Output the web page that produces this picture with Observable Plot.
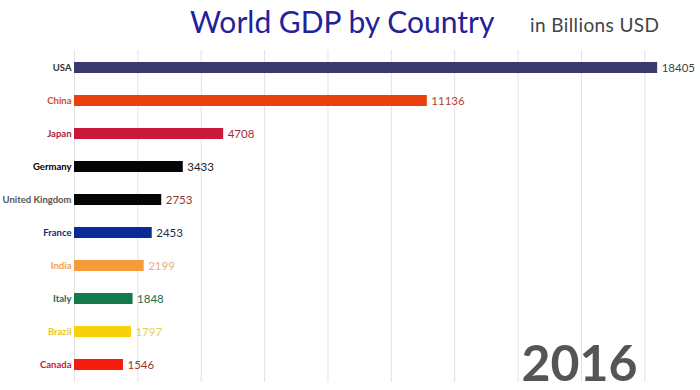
<!DOCTYPE html>
<html><head><meta charset="utf-8">
<script src="https://cdn.jsdelivr.net/npm/d3@7"></script>
<script src="https://cdn.jsdelivr.net/npm/@observablehq/plot@0.6"></script>
<style>
html,body{margin:0;padding:0;background:#fff;}
#wrap{position:relative;width:700px;height:390px;overflow:hidden;}
#head{position:relative;height:50px;}
#title{position:absolute;left:190px;top:3px;font-family:Lato,sans-serif;font-size:30px;color:#22229a;white-space:nowrap;}
#sub{position:absolute;left:530px;top:13px;font-family:Lato,sans-serif;font-size:19px;letter-spacing:0.4px;color:#444;white-space:nowrap;}
svg{display:block;}
</style></head>
<body><div id="wrap">
<div id="head"><div id="title">World GDP by Country</div><div id="sub">in Billions USD</div></div>
<div id="chart"></div>
</div>
<script>
const countries = ["USA","China","Japan","Germany","United Kingdom","France","India","Italy","Brazil","Canada"];
const gdp = [18405,11136,4708,3433,2753,2453,2199,1848,1797,1546];
const barColors = ["#3b3a6c","#e8410d","#c9183b","#050505","#050505","#0b2a98","#f69a3a","#137a4b","#f6d20c","#f51c0c"];
const labelColors = ["#333333","#d24a30","#a8203c","#000000","#555555","#16287a","#f0a04e","#1a6a48","#ecc628","#cc2030"];
const valueColors = ["#444444","#b04434","#a0303e","#222222","#8a3a34","#1c2a5c","#e2b080","#2a6a4c","#e8d060","#a43434"];
const gridTicks = [0,2000,4000,6000,8000,10000,12000,14000,16000,18000];
const year = "2016";

const data = countries.map((c,i)=>({country:c, value:gdp[i], bar:barColors[i], label:labelColors[i], vcol:valueColors[i]}));

const chart = Plot.plot({
  width: 700, height: 340,
  marginLeft: 74, marginRight: 24, marginTop: 0, marginBottom: 8,
  x: {domain:[0,19000], axis:null},
  y: {domain: countries, axis:null, padding:0},
  marks: [
    Plot.ruleX(gridTicks, {stroke:"#e2e2e2", strokeWidth:1}),
    Plot.barX(data, {x:"value", y:"country", fill: d=>d.bar, insetTop:11, insetBottom:11}),
    Plot.text(data, {x:0, y:"country", text:"country", fill: d=>d.label, textAnchor:"end", dx:-3, fontSize:9.5, fontWeight:"bold", fontFamily:"Lato, sans-serif"}),
    Plot.text(data, {x:"value", y:"country", text: d=>String(d.value), fill: d=>d.vcol, textAnchor:"start", dx:4, fontSize:11.5, fontFamily:"Lato, sans-serif"}),
    Plot.text([year], {text: d=>d, frameAnchor:"bottom-right", dx:-39, dy:-2, fontSize:50, fontWeight:"bold", fill:"#555555", fontFamily:"Lato, sans-serif", lineAnchor:"bottom", textAnchor:"end"})
  ]
});
document.getElementById("chart").appendChild(chart);
</script>
</body></html>
